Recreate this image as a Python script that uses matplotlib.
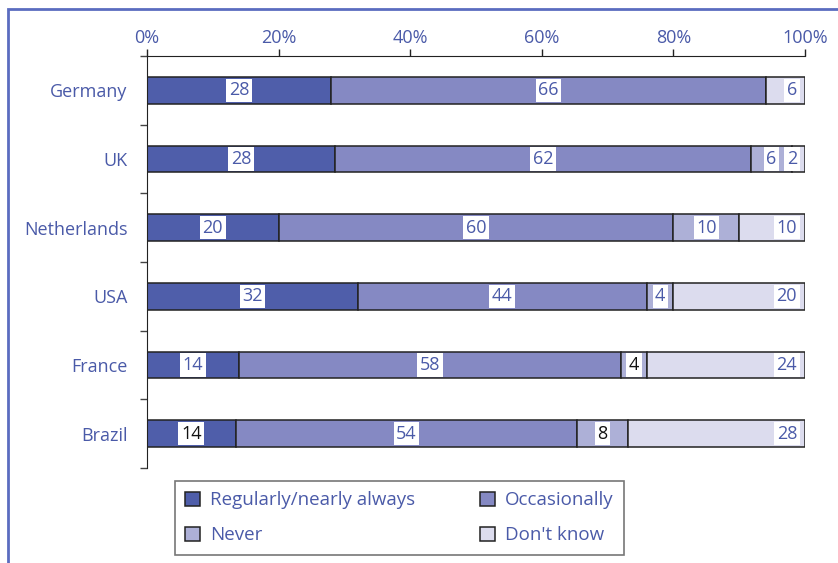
import matplotlib
matplotlib.use("Agg")
import matplotlib.pyplot as plt
import numpy as np
from matplotlib.patches import Rectangle

plt.rcParams["font.family"] = ["Open Sans", "DejaVu Sans"]

# data (percentages, as labelled)
countries = ["Germany", "UK", "Netherlands", "USA", "France", "Brazil"]
regularly = [28, 28, 20, 32, 14, 14]
occasionally = [66, 62, 60, 44, 58, 54]
never = [0, 6, 10, 4, 4, 8]
dont_know = [6, 2, 10, 20, 24, 28]
series_names = ["Regularly/nearly always", "Occasionally", "Never", "Don't know"]

# colours
blue_txt = "#4a5aa8"
colores = ["#4f5eaa", "#8589c3", "#adb0d7", "#dcdcee"]
# labels printed in black in the original
black_labels = {("France", 2), ("Brazil", 0), ("Brazil", 2)}

fig = plt.figure(figsize=(8.38, 5.63), dpi=100)
ax = fig.add_axes([147 / 838, 1 - 468 / 563, 658 / 838, 412 / 563])

data = np.array([regularly, occasionally, never, dont_know], dtype=float)
shares = data / data.sum(axis=0) * 100  # bars fill to 100%

y = np.arange(len(countries))
left = np.zeros(len(countries))
handles = []
for k, name in enumerate(series_names):
    bars = ax.barh(y, shares[k], left=left, height=0.39, color=colores[k],
                   edgecolor="#222222", linewidth=1.1, label=name, zorder=2)
    handles.append(bars)
    for i, c in enumerate(countries):
        if data[k, i] == 0:
            continue
        col = "#111111" if (c, k) in black_labels else blue_txt
        if k == 3:
            xpos, ha = 98.8, "right"
        else:
            xpos, ha = left[i] + shares[k, i] / 2, "center"
        ax.text(xpos, y[i], str(int(data[k, i])), ha=ha, va="center",
                fontsize=13, color=col, zorder=3,
                bbox=dict(facecolor="white", edgecolor="none", pad=1.8))
    left += shares[k]

ax.set_xlim(0, 100)
ax.set_ylim(len(countries) - 0.5, -0.5)

ax.xaxis.tick_top()
ax.set_xticks([0, 20, 40, 60, 80, 100])
ax.set_xticklabels([f"{v}%" for v in [0, 20, 40, 60, 80, 100]])
ax.tick_params(axis="x", colors="#222222", labelcolor=blue_txt, labelsize=13,
               length=5, width=1, pad=1.5)

ax.set_yticks(y)
ax.set_yticklabels(countries)
ax.set_yticks(np.arange(-0.5, len(countries)), minor=True)
ax.tick_params(axis="y", which="major", length=0, labelcolor=blue_txt,
               labelsize=13, pad=14)
ax.tick_params(axis="y", which="minor", length=5, width=1, color="#444444")

for s in ["right", "bottom"]:
    ax.spines[s].set_visible(False)
ax.spines["top"].set_color("#222222")
ax.spines["left"].set_color("#222222")

leg = ax.legend([handles[0], handles[2], handles[1], handles[3]],
                [series_names[0], series_names[2], series_names[1], series_names[3]],
                ncol=2, loc="upper left", bbox_to_anchor=(28 / 658, -0.032),
                borderaxespad=0, fontsize=13.5, frameon=True, fancybox=False,
                edgecolor="#555555", handlelength=0.8, handleheight=0.8,
                handletextpad=0.5, columnspacing=3.5, labelspacing=0.9,
                borderpad=0.55)
leg.get_frame().set_linewidth(1.2)
for t in leg.get_texts():
    t.set_color(blue_txt)

# outer blue frame (cut at the right and bottom of the picture)
fig.patches.append(Rectangle((8 / 838, -0.05), 1.0, 1 - 9 / 563 + 0.05,
                             transform=fig.transFigure, fill=False,
                             edgecolor="#5b6cc0", linewidth=2.0))

plt.savefig("out.png", dpi=100)
plt.close()
